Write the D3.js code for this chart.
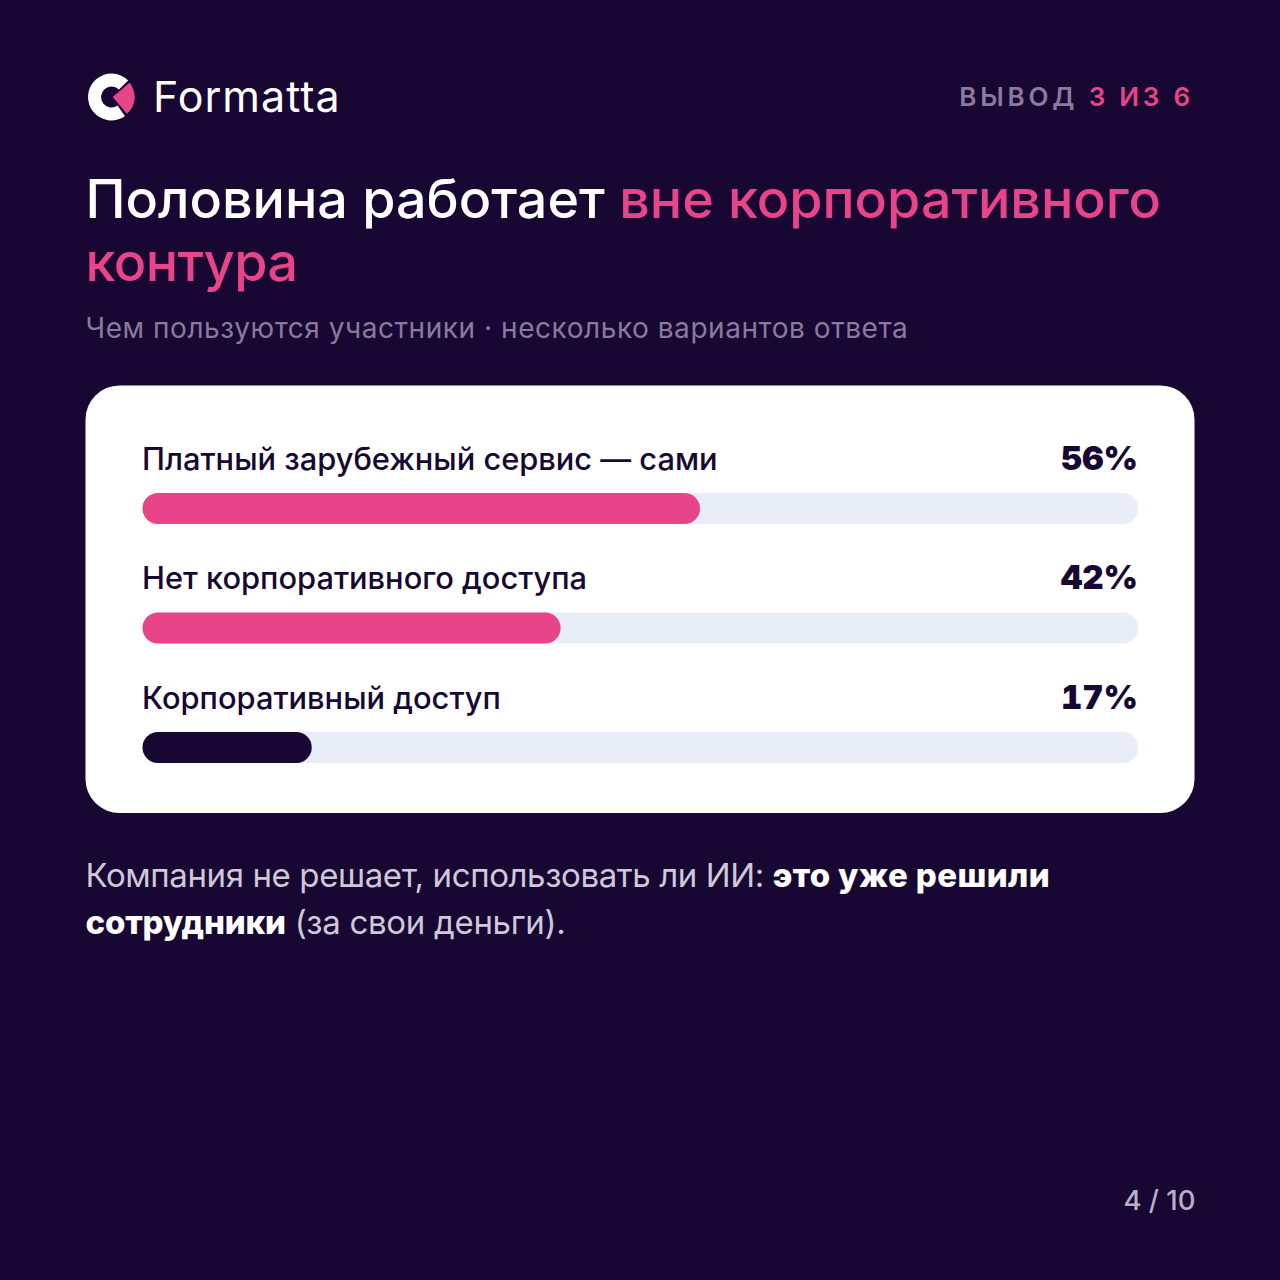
<!DOCTYPE html>
<html>
<head>
<meta charset="utf-8">
<script src="https://cdn.jsdelivr.net/npm/d3@7"></script>
<style>
  html, body { margin: 0; padding: 0; background: #170732; }
  svg { display: block; }
  text { font-family: "Inter", "Noto Sans", sans-serif; }
</style>
</head>
<body>
<div id="container"></div>
<script>
const categories = ["Платный зарубежный сервис — сами", "Нет корпоративного доступа", "Корпоративный доступ"];
const values = [56, 42, 17];
const barColors = ["#e8448a", "#e8448a", "#170732"];
const titleWhite = "Половина работает ";
const titlePink = "вне корпоративного";
const titlePink2 = "контура";
const subtitle = "Чем пользуются участники · несколько вариантов ответа";

const w = 1280;
const h = 1280;
const pink = "#e8448a";
const dark = "#170732";
const muted = "#8a7a9e";

const svg = d3.select("#container")
  .append("svg")
  .attr("width", w)
  .attr("height", h);

svg.append("rect")
  .attr("width", w)
  .attr("height", h)
  .attr("fill", dark);

// logo
const deg = Math.PI / 180;
const logo = svg.append("g").attr("transform", "translate(111.5,97)");
logo.append("path")
  .attr("d", d3.arc()({ innerRadius: 10.5, outerRadius: 23.5, startAngle: 145 * deg, endAngle: 405 * deg }))
  .attr("fill", "#ffffff");
logo.append("path")
  .attr("transform", "translate(1.2,0)")
  .attr("d", d3.arc()({ innerRadius: 0, outerRadius: 22, startAngle: 50 * deg, endAngle: 140 * deg }))
  .attr("fill", pink);

svg.append("text")
  .attr("x", 153)
  .attr("y", 112)
  .attr("font-size", 43)
  .attr("font-weight", 400)
  .attr("letter-spacing", 1)
  .attr("fill", "#ffffff")
  .text("Formatta");

// step label
const step = svg.append("text")
  .attr("x", 1194)
  .attr("y", 106)
  .attr("text-anchor", "end")
  .attr("font-size", 26)
  .attr("font-weight", 600)
  .attr("letter-spacing", 3.8);
step.append("tspan").attr("fill", muted).text("ВЫВОД ");
step.append("tspan").attr("fill", pink).text("3 ИЗ 6");

// title
const title = svg.append("text")
  .attr("x", 85.5)
  .attr("y", 218)
  .attr("font-size", 53.8)
  .attr("font-weight", 500);
title.append("tspan").attr("fill", "#ffffff").text(titleWhite);
title.append("tspan").attr("fill", pink).text(titlePink);

svg.append("text")
  .attr("x", 85.5)
  .attr("y", 281)
  .attr("font-size", 53.8)
  .attr("font-weight", 500)
  .attr("letter-spacing", -0.5)
  .attr("fill", pink)
  .text(titlePink2);

svg.append("text")
  .attr("x", 85.5)
  .attr("y", 338)
  .attr("font-size", 28)
  .attr("letter-spacing", 0.55)
  .attr("fill", muted)
  .text(subtitle);

// card
svg.append("rect")
  .attr("x", 85.5)
  .attr("y", 385.5)
  .attr("width", 1109)
  .attr("height", 427.5)
  .attr("rx", 34)
  .attr("fill", "#ffffff");

const xScale = d3.scaleLinear()
  .domain([0, 100])
  .range([142.5, 1138]);

const yScale = d3.scaleBand()
  .domain(categories)
  .range([448.5, 807]);

const rows = svg.selectAll(".row")
  .data(categories)
  .enter()
  .append("g")
  .attr("class", "row")
  .attr("transform", (d) => "translate(0," + yScale(d) + ")");

rows.append("text")
  .attr("x", xScale(0) - 0.5)
  .attr("y", 21)
  .attr("font-size", 30.8)
  .attr("font-weight", 500)
  .attr("fill", dark)
  .text((d) => d);

rows.append("text")
  .attr("x", xScale(100))
  .attr("y", 21)
  .attr("text-anchor", "end")
  .attr("font-size", 33)
  .attr("font-weight", 900)
  .attr("fill", dark)
  .style("font-variant-numeric", "tabular-nums")
  .text((d, i) => values[i] + "%");

rows.append("rect")
  .attr("x", xScale(0))
  .attr("y", 44.5)
  .attr("width", xScale(100) - xScale(0))
  .attr("height", 31)
  .attr("rx", 15.5)
  .attr("fill", "#e9edf8");

rows.append("rect")
  .attr("x", xScale(0))
  .attr("y", 44.5)
  .attr("width", (d, i) => xScale(values[i]) - xScale(0))
  .attr("height", 31)
  .attr("rx", 15.5)
  .attr("fill", (d, i) => barColors[i]);

// footer text
const note1 = svg.append("text")
  .attr("x", 85.5)
  .attr("y", 887)
  .attr("font-size", 33)
  .attr("fill", "#cfc8d8");
note1.append("tspan").attr("letter-spacing", -0.4).text("Компания не решает, использовать ли ИИ: ");
note1.append("tspan").attr("font-weight", 800).attr("letter-spacing", 0.4).attr("fill", "#ffffff").text("это уже решили");

const note2 = svg.append("text")
  .attr("x", 85.5)
  .attr("y", 934)
  .attr("font-size", 33)
  .attr("fill", "#cfc8d8");
note2.append("tspan").attr("font-weight", 800).attr("letter-spacing", -0.2).attr("fill", "#ffffff").text("сотрудники");
note2.append("tspan").attr("letter-spacing", -0.3).text(" (за свои деньги).");

svg.append("text")
  .attr("x", 1195.5)
  .attr("y", 1210)
  .attr("text-anchor", "end")
  .attr("font-size", 27.5)
  .attr("font-weight", 500)
  .attr("fill", "#b9b0c6")
  .text("4 / 10");
</script>
</body>
</html>
